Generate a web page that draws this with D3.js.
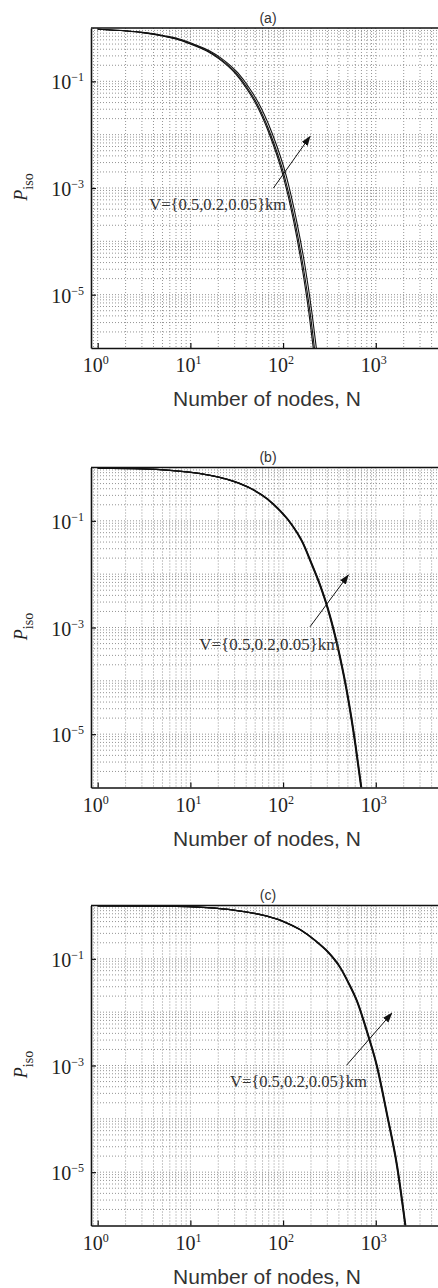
<!DOCTYPE html>
<html><head><meta charset="utf-8">
<script src="https://cdn.jsdelivr.net/npm/d3@7"></script>
<style>html,body{margin:0;padding:0;background:#fff;} svg{display:block;}</style>
</head><body><svg id="chart" width="438" height="1288"></svg>
<script>
// ---------- data ----------
const panelTitles = ["(a)", "(b)", "(c)"];
const vLabels = ["0.5", "0.2", "0.05"];
const xTickValues = [1, 10, 100, 1000, 10000];
const xTickExponents = ["0", "1", "2", "3", "4"];
const yTickValues = [1e-1, 1e-3, 1e-5];
const yTickExponents = ["\u22121", "\u22123", "\u22125"];
const annotationText = "V={0.5,0.2,0.05}km";

// panel (a): three V curves
const nA1 = [1, 2, 3, 5, 7, 10, 15, 20, 30, 40, 50, 70, 100, 130, 160, 190, 215];
const nA2 = [1, 2.06, 3.09, 5.15, 7.2, 10.3, 15.5, 20.6, 31, 41.2, 51.5, 72, 103, 134, 165, 196, 221];
const nA3 = [1, 2.16, 3.24, 5.4, 7.6, 10.8, 16.2, 21.6, 32.4, 43.2, 54, 75.6, 108, 140, 173, 205, 232];
const pA = [0.95, 0.88, 0.82, 0.71, 0.62, 0.5, 0.37, 0.27, 0.145, 0.075, 0.04, 0.011, 1.7e-3, 2.4e-4, 3.3e-5, 4.5e-6, 8e-7];

// panel (b)
const nB1 = [1, 3, 6, 12.7, 20, 29, 45, 66.5, 90, 120, 160, 200, 250, 300, 400, 500, 600, 690];
const nB2 = [1, 3.03, 6.06, 12.8, 20.2, 29.3, 45.5, 67.2, 91, 121, 162, 202, 253, 303, 404, 505, 606, 697];
const nB3 = [1, 3.06, 6.12, 13, 20.4, 29.6, 45.9, 67.8, 92, 122, 163, 204, 255, 306, 408, 510, 612, 704];
const pB = [0.97, 0.94, 0.88, 0.77, 0.66, 0.55, 0.4, 0.26, 0.16, 0.09, 0.04, 0.016, 6e-3, 2.3e-3, 3.2e-4, 4.5e-5, 6e-6, 1e-6];

// panel (c)
const nC1 = [1, 5, 15, 29, 66.5, 100, 152, 220, 295, 411, 500, 622, 800, 1015, 1310, 1680, 2065];
const nC2 = [1, 5.05, 15.2, 29.3, 67.2, 101, 154, 222, 298, 415, 505, 628, 808, 1025, 1323, 1697, 2086];
const nC3 = [1, 5.1, 15.3, 29.6, 67.8, 102, 155, 224, 301, 419, 510, 634, 816, 1035, 1336, 1714, 2106];
const pC = [0.99, 0.97, 0.91, 0.82, 0.63, 0.5, 0.35, 0.22, 0.14, 0.068, 0.036, 0.016, 4.2e-3, 1e-3, 1.2e-4, 1.3e-5, 1e-6];

// annotation anchors in data coordinates [N, P]
const annotTextPos = [[3.6, 3.9e-4], [12.5, 3.8e-4], [26.7, 4.0e-4]];
const arrowTail = [[78.4, 9.9e-4], [195, 1.03e-3], [486, 1.02e-3]];
const arrowTip = [[195, 9.2e-3], [505, 9.6e-3], [1484, 9.5e-3]];

const panelSeries = [
  [nA1, nA2, nA3].map(n => n.map((v, i) => [v, pA[i]])),
  [nB1, nB2, nB3].map(n => n.map((v, i) => [v, pB[i]])),
  [nC1, nC2, nC3].map(n => n.map((v, i) => [v, pC[i]]))
];

// ---------- layout ----------
const plotLeft = 91, plotRight = 445;
const panelTops = [28, 467.5, 905.5];
const panelH = 320;
const curveWidths = [1.1, 1.3, 1.3];
const annotWidths = [137, 140, 137];

const svg = d3.select("#chart");
const defs = svg.append("defs");
defs.append("marker").attr("id", "arrowhead")
  .attr("viewBox", "0 0 10 8").attr("refX", 9).attr("refY", 4)
  .attr("markerWidth", 10).attr("markerHeight", 8)
  .attr("markerUnits", "userSpaceOnUse").attr("orient", "auto")
  .append("path").attr("d", "M0,0.5 L10,4 L0,7.5 Z").attr("fill", "#111");

const x = d3.scaleLog().domain([0.847, 5580]).range([plotLeft, plotRight]);

const xGridVals = [];
for (let d = -1; d <= 4; d++) for (let k = 1; k <= 9; k++) {
  const v = k * Math.pow(10, d);
  if (v > 0.86 && v < 5500) xGridVals.push(v);
}
const yGridVals = [];
for (let d = -6; d <= -1; d++) for (let k = 1; k <= 9; k++) {
  const v = k * Math.pow(10, d);
  if (v > 1.01e-6 && v < 0.99) yGridVals.push(v);
}

panelTitles.forEach((title, i) => {
  const top = panelTops[i], bottom = top + panelH;
  const y = d3.scaleLog().domain([1e-6, 1]).range([bottom, top]);
  const g = svg.append("g");

  defs.append("clipPath").attr("id", "clip" + i)
    .append("rect").attr("x", plotLeft).attr("y", top)
    .attr("width", plotRight - plotLeft).attr("height", panelH);

  // grid
  const grid = g.append("g").attr("stroke", "#7a7a7a").attr("stroke-width", 0.8)
    .attr("stroke-dasharray", "1,2");
  grid.selectAll("line.v").data(xGridVals).join("line").attr("class", "v")
    .attr("x1", d => x(d)).attr("x2", d => x(d)).attr("y1", top).attr("y2", bottom);
  grid.selectAll("line.h").data(yGridVals).join("line").attr("class", "h")
    .attr("x1", plotLeft).attr("x2", plotRight).attr("y1", d => y(d)).attr("y2", d => y(d));

  // curves
  const line = d3.line().x(d => x(d[0])).y(d => y(d[1])).curve(d3.curveMonotoneX);
  g.append("g").attr("clip-path", `url(#clip${i})`)
    .selectAll("path").data(panelSeries[i]).join("path")
    .attr("d", line).attr("fill", "none").attr("stroke", "#111")
    .attr("stroke-width", curveWidths[i]);

  // axes
  const xAxis = d3.axisBottom(x).tickValues(xTickValues.filter(v => v < 5500))
    .tickSizeInner(-5).tickSizeOuter(0).tickFormat("");
  const xa = g.append("g").attr("transform", `translate(0,${bottom})`).call(xAxis);
  const yAxis = d3.axisLeft(y).tickValues(yTickValues)
    .tickSizeInner(-5).tickSizeOuter(0).tickFormat("");
  const ya = g.append("g").attr("transform", `translate(${plotLeft},0)`).call(yAxis);
  [xa, ya].forEach(a => {
    a.select(".domain").attr("stroke", "#111").attr("stroke-width", 1.6);
    a.selectAll(".tick line").attr("stroke", "#111").attr("stroke-width", 1.2);
  });
  g.append("line").attr("x1", plotLeft).attr("x2", plotRight)
    .attr("y1", top).attr("y2", top).attr("stroke", "#111").attr("stroke-width", 1.6);
  g.append("line").attr("x1", plotRight).attr("x2", plotRight)
    .attr("y1", top).attr("y2", bottom).attr("stroke", "#111").attr("stroke-width", 1.6);

  // x tick labels
  xTickValues.forEach((v, j) => {
    if (v > 5500) return;
    const t = g.append("text").attr("x", x(v) - 2).attr("y", bottom + 24)
      .attr("text-anchor", "middle").attr("font-family", "Liberation Serif, Times New Roman, serif")
      .attr("font-size", 20).attr("fill", "#222");
    t.append("tspan").text("10");
    t.append("tspan").attr("dy", -8).attr("font-size", 12).text(xTickExponents[j]);
  });
  // y tick labels
  yTickValues.forEach((v, j) => {
    const t = g.append("text").attr("x", 84).attr("y", y(v) + 8)
      .attr("text-anchor", "end").attr("font-family", "Liberation Serif, Times New Roman, serif")
      .attr("font-size", 20).attr("fill", "#222");
    t.append("tspan").text("10");
    t.append("tspan").attr("dy", -8).attr("font-size", 12).text(yTickExponents[j]);
  });

  // titles
  const cx = (plotLeft + plotRight) / 2;
  g.append("text").attr("x", cx).attr("y", top - 5.5).attr("text-anchor", "middle")
    .attr("font-family", "Liberation Sans, Arial, sans-serif").attr("font-size", 14)
    .attr("fill", "#333").text(title);
  g.append("text").attr("x", cx - 1).attr("y", bottom + 58).attr("text-anchor", "middle")
    .attr("font-family", "Liberation Sans, Arial, sans-serif").attr("font-size", 21)
    .attr("fill", "#333").text("Number of nodes, N");
  const yl = g.append("text")
    .attr("transform", `translate(26.5,${(top + bottom) / 2 - 1}) rotate(-90)`)
    .attr("text-anchor", "middle").attr("font-family", "Liberation Serif, Times New Roman, serif")
    .attr("fill", "#222");
  yl.append("tspan").attr("font-style", "italic").attr("font-size", 18).text("P");
  yl.append("tspan").attr("font-size", 14).attr("dy", 6).text("iso");

  // annotation
  g.append("line")
    .attr("x1", x(arrowTail[i][0])).attr("y1", y(arrowTail[i][1]))
    .attr("x2", x(arrowTip[i][0])).attr("y2", y(arrowTip[i][1]))
    .attr("stroke", "#111").attr("stroke-width", 1).attr("marker-end", "url(#arrowhead)");
  g.append("text").attr("x", x(annotTextPos[i][0])).attr("y", y(annotTextPos[i][1]))
    .attr("font-family", "Liberation Serif, Times New Roman, serif").attr("font-size", 16)
    .attr("textLength", annotWidths[i]).attr("lengthAdjust", "spacingAndGlyphs")
    .attr("fill", "#333").text(annotationText);
});
</script></body></html>
